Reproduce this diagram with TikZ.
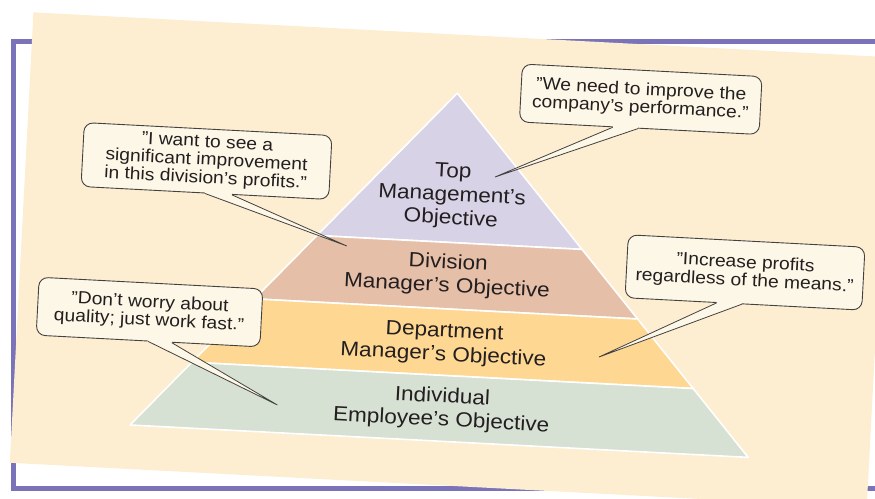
\documentclass[tikz,border=0pt]{standalone}
\usepackage{fontspec}
\setmainfont{Liberation Sans}[FakeStretch=1.1]
\usetikzlibrary{calc}

\definecolor{framepurple}{HTML}{7B73B9}
\definecolor{paper}{HTML}{FDEDD1}
\definecolor{bandtop}{HTML}{D8D2E7}
\definecolor{banddiv}{HTML}{E6BFA8}
\definecolor{banddept}{HTML}{FED792}
\definecolor{bandind}{HTML}{D6E0D3}
\definecolor{bubble}{HTML}{FDF7E7}
\definecolor{ink}{HTML}{231F20}

\begin{document}
\begin{tikzpicture}[x=1pt,y=-1pt,
  band/.style={draw=white,line width=1.6pt,line join=round},
  tier/.style={text=ink,align=center,font=\fontsize{20.5}{23.5}\selectfont},
  bubblebox/.style={draw=ink!85,fill=bubble,line width=0.9pt,rounded corners=9pt,
    inner sep=0pt,align=center,text=ink,font=\fontsize{17.5}{18}\selectfont},
  tail/.style={draw=ink!85,line width=0.8pt,line join=miter},
]
\useasboundingbox (0,0) rectangle (875,498);
\clip (0,0) rectangle (875,498);

% purple frame behind the tilted sheet
\draw[framepurple,line width=5.5pt] (13.5,41.5) rectangle (920,488.5);

\begin{scope}[rotate around={-3:(440,280)},transform shape]
  % tilted sheet
  \fill[paper] (20,34) rectangle (878,485);

  % pyramid
  \coordinate (apex) at (447.5,92.5);
  \coordinate (bl) at (138,441);
  \coordinate (br) at (757,441);

  \filldraw[band,fill=bandtop] (apex) -- ($(apex)!0.429!(br)$) -- ($(apex)!0.429!(bl)$) -- cycle;
  \filldraw[band,fill=banddiv] ($(apex)!0.429!(bl)$) -- ($(apex)!0.429!(br)$)
    -- ($(apex)!0.62!(br)$) -- ($(apex)!0.62!(bl)$) -- cycle;
  \filldraw[band,fill=banddept] ($(apex)!0.62!(bl)$) -- ($(apex)!0.62!(br)$)
    -- ($(apex)!0.811!(br)$) -- ($(apex)!0.811!(bl)$) -- cycle;
  \filldraw[band,fill=bandind] ($(apex)!0.811!(bl)$) -- ($(apex)!0.811!(br)$)
    -- (br) -- (bl) -- cycle;

  \node[tier] (toptxt) at (447.5,195.5) {Top\\Management’s\\Objective};
  \node[tier] (divtxt) at (447.3,274.6) {Division\\Manager’s Objective};
  \node[tier] (depttxt) at (447.3,343.7) {Department\\Manager’s Objective};
  \node[tier] (indtxt) at (448.5,408.7) {Individual\\Employee’s Objective};

  % speech bubbles
  \node[bubblebox,minimum width=240pt,minimum height=58pt] (q1) at (631,89)
    {”We need to improve the\\company’s performance.”};
  \node[bubblebox,minimum width=248pt,minimum height=64pt] (q2) at (200.6,173.4)
    {”I want to see a\\significant improvement\\in this division’s profits.”};
  \node[bubblebox,minimum width=237pt,minimum height=63pt] (q3) at (744.2,256.5)
    {”Increase profits\\regardless of the means.”};
  \node[bubblebox,minimum width=224pt,minimum height=58pt] (q4) at (151.6,327.2)
    {”Don’t worry about\\quality; just work fast.”};

  % tail tips
  \coordinate (t1) at (489.5,174.3);
  \coordinate (t2) at (345.1,250.9);
  \coordinate (t3) at (602.8,348.6);
  \coordinate (t4) at (284.1,413.3);

  % tail bases on the lower edges of the bubbles
  \path (q1.south west) -- (q1.south east) coordinate[pos=0.39] (q1a) coordinate[pos=0.495] (q1b);
  \path (q2.south west) -- (q2.south east) coordinate[pos=0.50] (q2a) coordinate[pos=0.609] (q2b);
  \path (q3.south west) -- (q3.south east) coordinate[pos=0.387] (q3a) coordinate[pos=0.493] (q3b);
  \path (q4.south west) -- (q4.south east) coordinate[pos=0.501] (q4a) coordinate[pos=0.606] (q4b);

  \foreach \q/\t in {q1/t1,q2/t2,q3/t3,q4/t4}{
    \fill[bubble] ($(\q a)+(0,-2)$) -- (\q a) -- (\t) -- (\q b) -- ($(\q b)+(0,-2)$) -- cycle;
    \draw[tail] (\q a) -- (\t) -- (\q b);
  }
\end{scope}
\end{tikzpicture}
\end{document}
